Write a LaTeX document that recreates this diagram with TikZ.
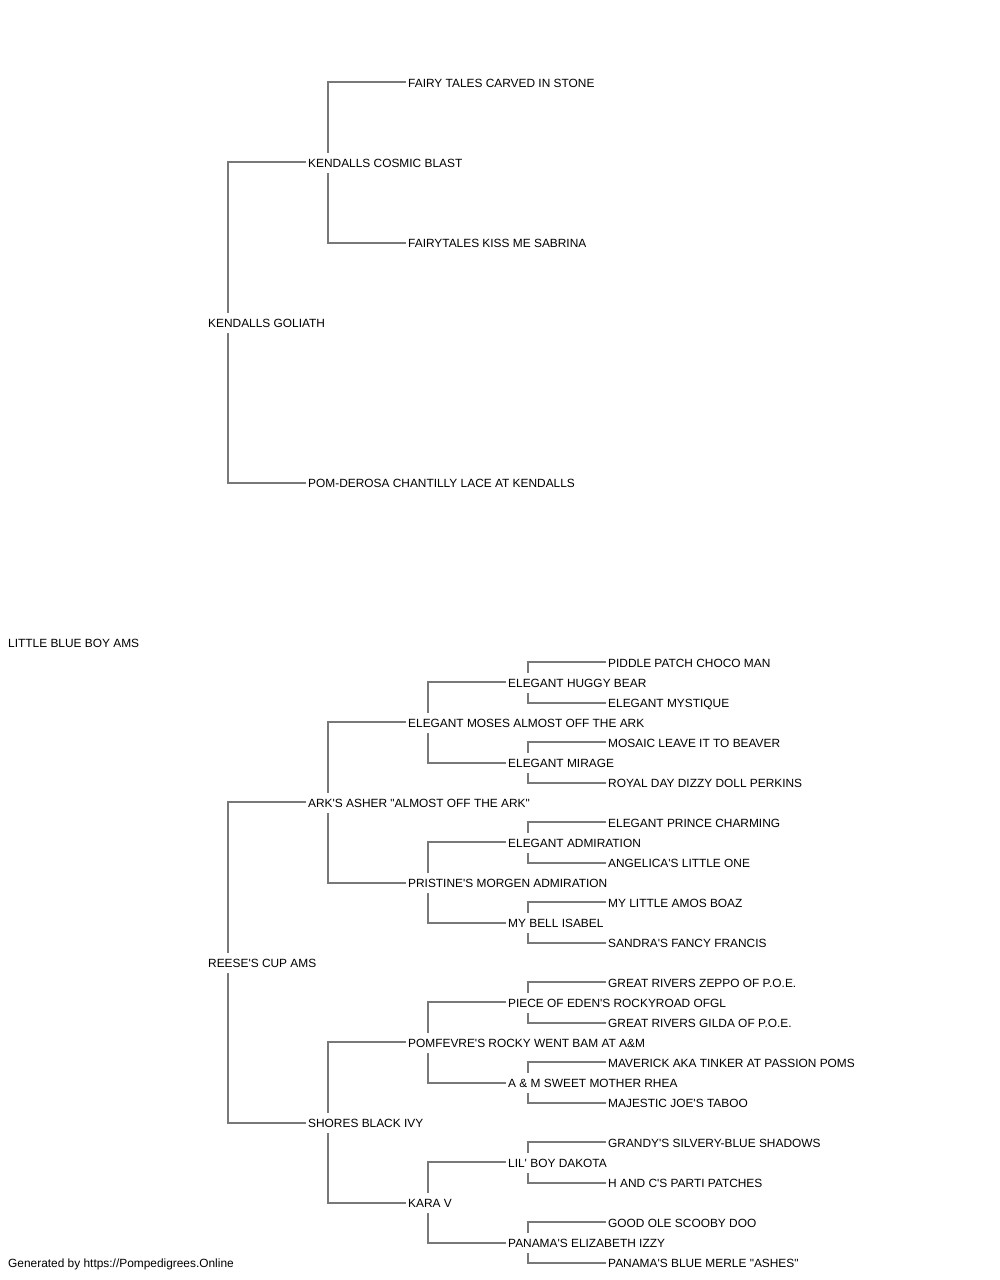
\documentclass[tikz,border=0pt]{standalone}
\usepackage{fontspec}
\newfontfamily\pedfont{Liberation Sans}
\definecolor{linegray}{RGB}{120,120,120}
\begin{document}
\begin{tikzpicture}[x=1pt,y=-1pt,
  dog/.style={anchor=west,fill=white,inner xsep=2pt,inner ysep=0pt,
    text height=8.6pt,text depth=0pt,minimum height=20pt,
    font=\pedfont\fontsize{11.9pt}{14pt}\selectfont},
  link/.style={draw=linegray,line width=1.4pt}]
\useasboundingbox (0,0) rectangle (1000,1280);
% generation 1
\node[dog] (g1) at (6,643) {LITTLE BLUE BOY AMS};
% generation 2
\node[dog] (a) at (206,323) {KENDALLS GOLIATH};
\node[dog] (b) at (206,963) {REESE'S CUP AMS};
% generation 3
\node[dog] (aa) at (306,163) {KENDALLS COSMIC BLAST};
\node[dog] (ab) at (306,483) {POM-DEROSA CHANTILLY LACE AT KENDALLS};
\node[dog] (ba) at (306,803) {ARK'S ASHER "ALMOST OFF THE ARK"};
\node[dog] (bb) at (306,1123) {SHORES BLACK IVY};
% generation 4
\node[dog] (aaa) at (406,83) {FAIRY TALES CARVED IN STONE};
\node[dog] (aab) at (406,243) {FAIRYTALES KISS ME SABRINA};
\node[dog] (baa) at (406,723) {ELEGANT MOSES ALMOST OFF THE ARK};
\node[dog] (bab) at (406,883) {PRISTINE'S MORGEN ADMIRATION};
\node[dog] (bba) at (406,1043) {POMFEVRE'S ROCKY WENT BAM AT A\&M};
\node[dog] (bbb) at (406,1203) {KARA V};
% generation 5
\node[dog] (baaa) at (506,683) {ELEGANT HUGGY BEAR};
\node[dog] (baab) at (506,763) {ELEGANT MIRAGE};
\node[dog] (baba) at (506,843) {ELEGANT ADMIRATION};
\node[dog] (babb) at (506,923) {MY BELL ISABEL};
\node[dog] (bbaa) at (506,1003) {PIECE OF EDEN'S ROCKYROAD OFGL};
\node[dog] (bbab) at (506,1083) {A \& M SWEET MOTHER RHEA};
\node[dog] (bbba) at (506,1163) {LIL' BOY DAKOTA};
\node[dog] (bbbb) at (506,1243) {PANAMA'S ELIZABETH IZZY};
% generation 6
\node[dog] (baaaa) at (606,663) {PIDDLE PATCH CHOCO MAN};
\node[dog] (baaab) at (606,703) {ELEGANT MYSTIQUE};
\node[dog] (baaba) at (606,743) {MOSAIC LEAVE IT TO BEAVER};
\node[dog] (baabb) at (606,783) {ROYAL DAY DIZZY DOLL PERKINS};
\node[dog] (babaa) at (606,823) {ELEGANT PRINCE CHARMING};
\node[dog] (babab) at (606,863) {ANGELICA'S LITTLE ONE};
\node[dog] (babba) at (606,903) {MY LITTLE AMOS BOAZ};
\node[dog] (babbb) at (606,943) {SANDRA'S FANCY FRANCIS};
\node[dog] (bbaaa) at (606,983) {GREAT RIVERS ZEPPO OF P.O.E.};
\node[dog] (bbaab) at (606,1023) {GREAT RIVERS GILDA OF P.O.E.};
\node[dog] (bbaba) at (606,1063) {MAVERICK AKA TINKER AT PASSION POMS};
\node[dog] (bbabb) at (606,1103) {MAJESTIC JOE'S TABOO};
\node[dog] (bbbaa) at (606,1143) {GRANDY'S SILVERY-BLUE SHADOWS};
\node[dog] (bbbab) at (606,1183) {H AND C'S PARTI PATCHES};
\node[dog] (bbbba) at (606,1223) {GOOD OLE SCOOBY DOO};
\node[dog] (bbbbb) at (606,1263) {PANAMA'S BLUE MERLE "ASHES"};
% footer
\node[dog] (foot) at (6,1263) {Generated by https://Pompedigrees.Online};
% brackets
\foreach \p/\s/\d in {a/aa/ab, b/ba/bb, aa/aaa/aab, ba/baa/bab, bb/bba/bbb,
  baa/baaa/baab, bab/baba/babb, bba/bbaa/bbab, bbb/bbba/bbbb,
  baaa/baaaa/baaab, baab/baaba/baabb, baba/babaa/babab, babb/babba/babbb,
  bbaa/bbaaa/bbaab, bbab/bbaba/bbabb, bbba/bbbaa/bbbab, bbbb/bbbba/bbbbb}{
  \draw[link] ([xshift=22pt]\p.north west) |- ([yshift=1pt]\s.west);
  \draw[link] ([xshift=22pt]\p.south west) |- (\d.west);
}
\end{tikzpicture}
\end{document}
